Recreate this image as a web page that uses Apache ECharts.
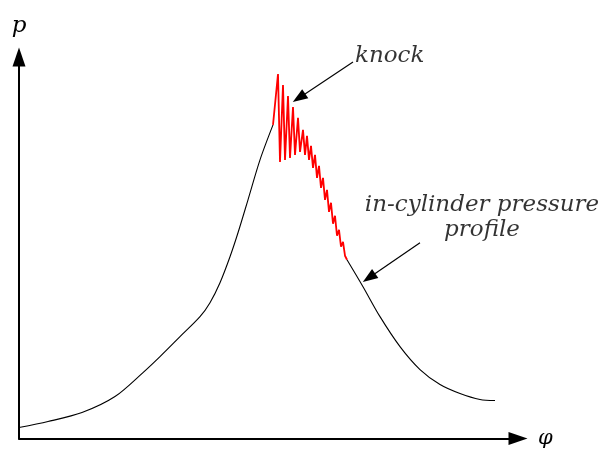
<!DOCTYPE html>
<html>
<head>
<meta charset="utf-8">
<script src="https://cdn.jsdelivr.net/npm/echarts@6/dist/echarts.min.js"></script>
<style>
  html, body { margin: 0; padding: 0; background: #fff; }
  #chart { width: 605px; height: 449px; }
</style>
</head>
<body>
<div id="chart"></div>
<script>
// crank angle (phi) vs in-cylinder pressure (p), arbitrary units
const riseCurve = [
  [0, 11], [29, 17], [63, 26], [96, 42], [124, 66], [141, 82], [161, 102],
  [181, 122], [191, 136], [201, 156], [211, 182], [219, 206], [229, 239],
  [241, 279], [254, 314]
]
const knockCurve = [
  [254, 314], [259, 365], [261, 277], [264, 354], [266, 279], [269, 343], [271, 281],
  [274, 332], [276, 284], [279, 321], [281, 287], [284, 309], [286, 284], [288, 303],
  [290, 279], [292, 293], [294, 271], [296, 284], [298, 261], [300, 273], [302, 251],
  [304, 261], [306, 239], [308, 249], [310, 227], [312, 236], [314, 215], [316, 223],
  [318, 203], [320, 209], [322, 192], [324, 197], [326, 183], [328, 179]
]
const fallCurve = [
  [328, 179], [344, 152], [361, 122], [381, 92], [401, 69], [421, 54],
  [441, 45], [461, 39], [476, 38]
]
const knockArrow = [[334, 377], [280, 341]]
const profileArrow = [[401, 196], [350, 161]]
const notes = [
  { value: [336, 383], text: 'knock', align: 'left' },
  { value: [463, 221], text: 'in-cylinder pressure\nprofile', align: 'center' }
]

const serif = { fontFamily: 'DejaVu Serif', fontStyle: 'italic', color: '#000' }
const axisLine = {
  onZero: false, symbol: ['none', 'triangle'], symbolSize: [13, 19],
  lineStyle: { color: '#000', width: 2 }
}

const chart = echarts.init(document.getElementById('chart'))
chart.setOption({
  animation: false,
  backgroundColor: '#fff',
  grid: { left: 19, right: 87, top: 57, bottom: 10 },
  xAxis: {
    type: 'value', min: 0, max: 499,
    name: 'φ', nameLocation: 'end', nameGap: 20,
    nameTextStyle: Object.assign({ fontSize: 21 }, serif),
    axisLine: axisLine,
    axisTick: { show: false }, axisLabel: { show: false }, splitLine: { show: false }
  },
  yAxis: {
    type: 'value', min: 0, max: 382,
    name: 'p', nameLocation: 'end', nameGap: 19,
    nameTextStyle: Object.assign({ fontSize: 23, align: 'center' }, serif),
    axisLine: axisLine,
    axisTick: { show: false }, axisLabel: { show: false }, splitLine: { show: false }
  },
  series: [
    {
      type: 'line', data: riseCurve, smooth: 0.3, showSymbol: false,
      lineStyle: { color: '#000', width: 1.1 }
    },
    {
      type: 'line', data: fallCurve, smooth: 0.3, showSymbol: false,
      lineStyle: { color: '#000', width: 1.1 }
    },
    {
      type: 'line', data: knockCurve, showSymbol: false,
      lineStyle: { color: '#ff0000', width: 1.8 }
    },
    {
      type: 'scatter', clip: false, symbolSize: 0,
      data: notes.map(n => ({
        value: n.value,
        label: {
          show: true, position: [0, 0], formatter: n.text, align: n.align,
          verticalAlign: 'middle', fontSize: 23, lineHeight: 25,
          fontFamily: 'DejaVu Serif', fontStyle: 'italic', color: '#000'
        }
      })),
      markLine: {
        silent: true, symbol: ['none', 'triangle'], symbolSize: [11, 15],
        label: { show: false },
        lineStyle: { color: '#000', width: 1.2, type: 'solid' },
        data: [
          [{ coord: knockArrow[0] }, { coord: knockArrow[1] }],
          [{ coord: profileArrow[0] }, { coord: profileArrow[1] }]
        ]
      }
    }
  ]
})
</script>
</body>
</html>
